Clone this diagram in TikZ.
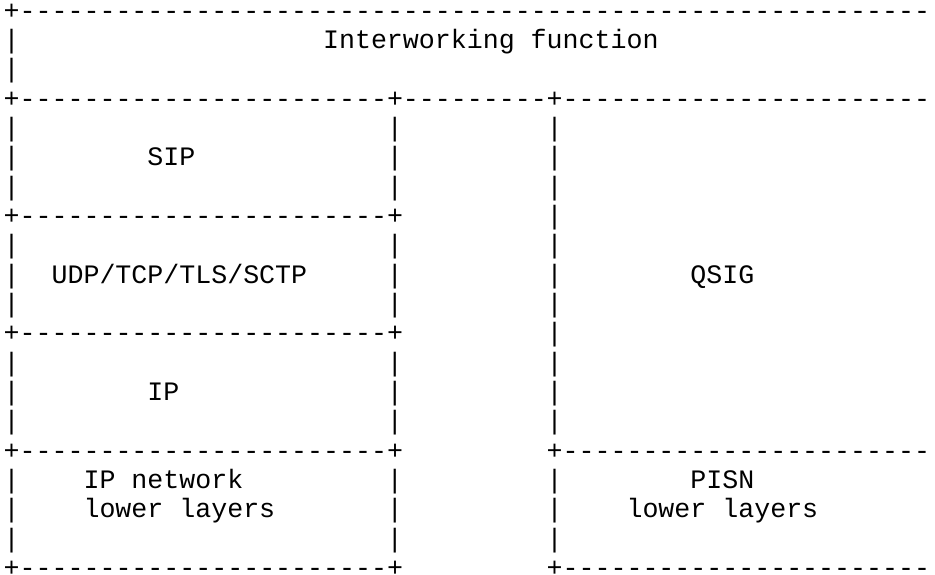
\documentclass[tikz,border=0pt]{standalone}
\usepackage{fontspec}
\newfontfamily\asciifont{Liberation Mono}
\newcount\dcnt
\newcommand\dsh[1]{\dcnt=0 \loop\ifnum\dcnt<#1 -\kern0pt\advance\dcnt by 1 \repeat}
\tikzset{
  asc/.style={anchor=base west, inner sep=0pt, outer sep=0pt, text=black,
    font=\asciifont\fontsize{26.62pt}{29.33pt}\selectfont}
}
\newcommand\cell[3]{\node[asc] (r#1c#2) at ({3.7pt+15.97pt*#2},{-19.3pt-29.33pt*#1}) {#3};}
\begin{document}
\begin{tikzpicture}
\useasboundingbox (0,0) rectangle (935pt,-574pt);
\fill[white] (0,0) rectangle (935pt,-574pt);
% borders
\cell{0}{0}{+\dsh{57}}
\cell{3}{0}{+\dsh{23}+\dsh{9}+\dsh{23}}
\cell{7}{0}{+\dsh{23}+}
\cell{11}{0}{+\dsh{23}+}
\cell{15}{0}{+\dsh{23}+}
\cell{15}{34}{+\dsh{23}}
\cell{19}{0}{+\dsh{23}+}
\cell{19}{34}{+\dsh{23}}
% vertical bars
\cell{1}{0}{|}
\cell{2}{0}{|}
\foreach \r in {4,5,6,8,9,10,12,13,14,16,17,18} {
  \cell{\r}{0}{|}
  \cell{\r}{24}{|}
}
\foreach \r in {4,5,6,7,8,9,10,11,12,13,14,16,17,18} {
  \cell{\r}{34}{|}
}
% labels
\cell{1}{20}{Interworking function}
\cell{5}{9}{SIP}
\cell{9}{3}{UDP/TCP/TLS/SCTP}
\cell{9}{43}{QSIG}
\cell{13}{9}{IP}
\cell{16}{5}{IP network}
\cell{17}{5}{lower layers}
\cell{16}{43}{PISN}
\cell{17}{39}{lower layers}
\end{tikzpicture}
\end{document}
